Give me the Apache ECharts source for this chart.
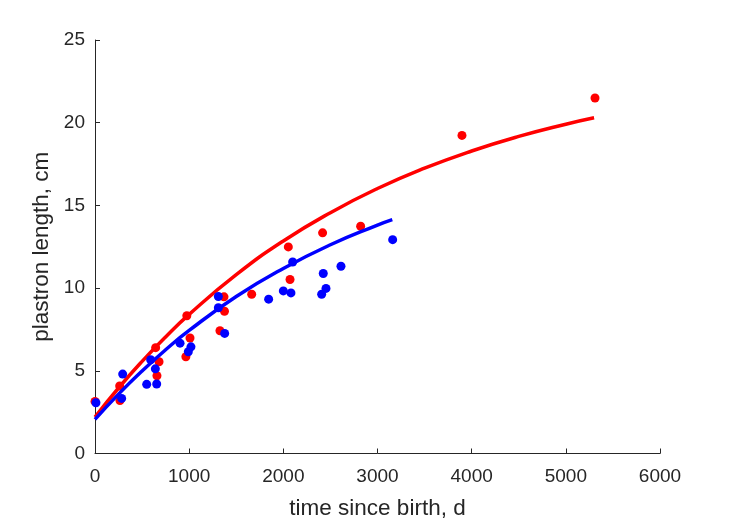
<!DOCTYPE html>
<html>
<head>
<meta charset="utf-8">
<script src="https://cdn.jsdelivr.net/npm/echarts@6/dist/echarts.min.js"></script>
<style>html,body{margin:0;padding:0;background:#fff;}#c{width:729px;height:521px;}</style>
</head>
<body>
<div id="c"></div>
<script>
// Observed data: [time since birth (d), plastron length (cm)]
var redPoints = [[0,3.15],[262,4.08],[265,3.2],[644,6.4],[680,5.55],[658,4.7],[975,8.33],[1009,6.98],[965,5.85],[1370,9.47],[1375,8.6],[1327,7.42],[1664,9.63],[2053,12.49],[2071,10.52],[2417,13.34],[2821,13.74],[3897,19.23],[5310,21.49]];
var bluePoints = [[10,3.07],[294,4.8],[283,3.33],[549,4.18],[655,4.2],[641,5.12],[591,5.67],[903,6.67],[991,6.15],[1019,6.45],[1310,9.49],[1310,8.81],[1377,7.26],[1844,9.33],[2000,9.83],[2081,9.71],[2099,11.58],[2407,9.63],[2453,9.98],[2424,10.88],[2612,11.32],[3161,12.93]];
// Fitted curves
var redCurveT = [0,250,500,750,1000,1500,2000,2500,3000,3500,4000,4500,5000,5300];
var redCurveL = [2.20,3.96,5.57,7.05,8.41,10.81,12.85,14.56,16.02,17.25,18.29,19.17,19.91,20.30];
var blueCurveT = [0,250,500,750,1000,1500,2000,2500,3000,3157];
var blueCurveL = [2.06,3.59,4.99,6.27,7.44,9.49,11.19,12.62,13.81,14.14];
var xTicks = [0,1000,2000,3000,4000,5000,6000];
var yTicks = [0,5,10,15,20,25];

function pairs(t, l){ return t.map(function(v,i){ return [v, l[i]]; }); }

var txt = '#262626';
var font = 'Liberation Sans, Arial, Helvetica, sans-serif';
var chart = echarts.init(document.getElementById('c'));
chart.setOption({
  animation: false,
  backgroundColor: '#fff',
  grid: {left: 95, right: 69, top: 40, bottom: 67.5, containLabel: false, outerBoundsMode: 'none'},
  xAxis: {
    type: 'value', min: xTicks[0], max: xTicks[xTicks.length-1], interval: 1000,
    name: 'time since birth, d', nameLocation: 'middle', nameGap: 44,
    nameTextStyle: {color: txt, fontSize: 22.5, fontFamily: font},
    axisLine: {show: true, lineStyle: {color: txt, width: 1}},
    axisTick: {show: true, inside: true, length: 5, lineStyle: {color: txt}},
    axisLabel: {color: txt, fontSize: 19, fontFamily: font, margin: 14, formatter: function(v){ return String(v); }},
    splitLine: {show: false}
  },
  yAxis: {
    type: 'value', min: yTicks[0], max: yTicks[yTicks.length-1], interval: 5,
    name: 'plastron length, cm', nameLocation: 'middle', nameGap: 38,
    nameTextStyle: {color: txt, fontSize: 22.5, fontFamily: font},
    axisLine: {show: true, lineStyle: {color: txt, width: 1}},
    axisTick: {show: true, inside: true, length: 5, lineStyle: {color: txt}},
    axisLabel: {color: txt, fontSize: 19, fontFamily: font, margin: 10, formatter: function(v){ return String(v); }},
    splitLine: {show: false}
  },
  series: [
    {type: 'scatter', data: redPoints, symbolSize: 9, itemStyle: {color: '#ff0000', opacity: 1}, z: 2},
    {type: 'line', data: pairs(redCurveT, redCurveL), smooth: true, showSymbol: false, lineStyle: {color: '#ff0000', width: 3.5}, z: 3},
    {type: 'scatter', data: bluePoints, symbolSize: 9, itemStyle: {color: '#0000ff', opacity: 1}, z: 4},
    {type: 'line', data: pairs(blueCurveT, blueCurveL), smooth: true, showSymbol: false, lineStyle: {color: '#0000ff', width: 3.5}, z: 5}
  ]
});
</script>
</body>
</html>
